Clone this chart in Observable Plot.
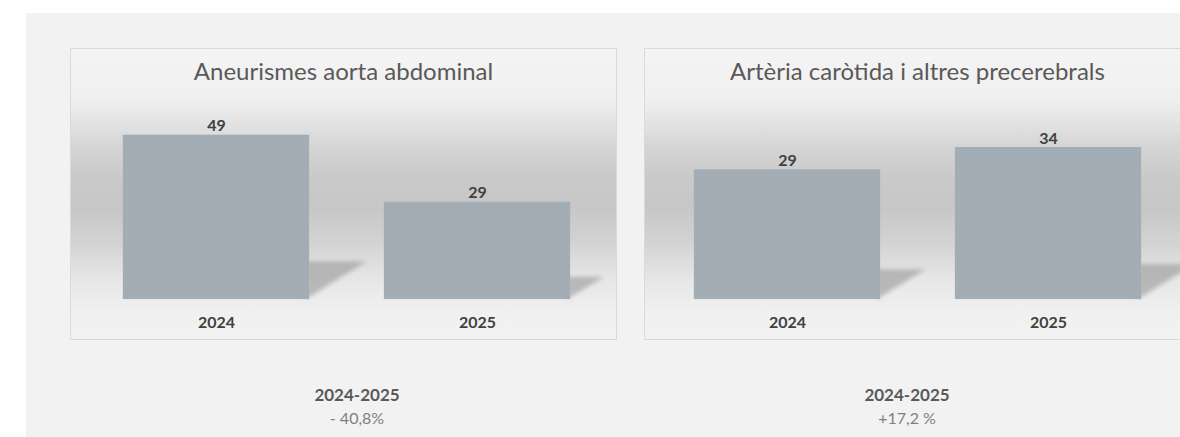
<!DOCTYPE html>
<html><head><meta charset="utf-8">
<script src="https://cdn.jsdelivr.net/npm/d3@7"></script>
<script src="https://cdn.jsdelivr.net/npm/@observablehq/plot@0.6"></script>
<style>
html,body{margin:0;padding:0;background:#fff;}
body{width:1180px;height:437px;overflow:hidden;position:relative;font-family:Lato,"Open Sans",sans-serif;}
#bg{position:absolute;left:26px;top:13px;width:1154px;height:424px;background:#f2f2f2;}
.panel{position:absolute;top:48px;width:547px;height:292px;box-sizing:border-box;border:1px solid #dadada;
  background:linear-gradient(to bottom,#f4f4f4 0%,#f0f0f0 17%,#e2e2e2 26%,#d4d4d4 34%,#c9c9c9 45%,#c7c7c7 55%,#d3d3d3 67%,#e6e6e6 79%,#f0f0f0 90%,#f2f2f2 100%);}
.panel svg{position:absolute;left:-1px;top:-1px;}
.title{position:absolute;left:0;right:0;top:10px;text-align:center;font-size:24px;line-height:24px;color:#595959;white-space:nowrap;}
.cap{position:absolute;width:200px;text-align:center;}
.cap .p{font-size:17px;font-weight:bold;color:#595959;line-height:20px;}
.cap .c{font-size:16px;color:#7f7f7f;line-height:20px;margin-top:3px;}
</style></head>
<body>
<div id="bg"></div>
<div id="root"></div>
<script>
const years = ["2024", "2025"];
const aneurismes = [49, 29];
const carotida = [29, 34];
const titles = ["Aneurismes aorta abdominal", "Artèria caròtida i altres precerebrals"];
const periods = ["2024-2025", "2024-2025"];
const changes = ["- 40,8%", "+17,2 %"];
const yMax = [60, 45];

const panels = [
  {values: aneurismes, ymax: yMax[0], title: titles[0], left: 70, ml: 53, mr: 45, capX: 357, period: periods[0], change: changes[0]},
  {values: carotida, ymax: yMax[1], title: titles[1], left: 644, ml: 50, mr: 48, capX: 907, period: periods[1], change: changes[1]}
];

const PAD = 0.288;

function shadow(data, id, ml, mr, width) {
  return (index, scales) => {
    const sx = scales.x, sy = scales.y;
    let bw = typeof sx.bandwidth === "function" ? sx.bandwidth() : sx.bandwidth;
    if (!(bw > 0)) bw = (width - ml - mr) * (1 - PAD) / (2 - PAD);
    const y0 = sy(0);
    const g = d3.create("svg:g");
    const f = g.append("defs").append("filter").attr("id", id)
      .attr("x", "-20%").attr("y", "-20%").attr("width", "140%").attr("height", "140%");
    f.append("feGaussianBlur").attr("stdDeviation", 2);
    const gg = g.append("g").attr("filter", `url(#${id})`);
    for (const d of data) {
      const xr = sx(d.year) + bw;
      const h = y0 - sy(d.value);
      gg.append("path")
        .attr("d", `M${xr - 3},${y0}L${xr - 3},${y0 - 0.23 * h}L${xr + 0.35 * h},${y0 - 0.23 * h}Z`)
        .attr("fill", "#9a9a9a").attr("fill-opacity", 0.62);
    }
    return g.node();
  };
}

const root = document.getElementById("root");
panels.forEach((p, k) => {
  const data = years.map((year, i) => ({year, value: p.values[i]}));
  const div = document.createElement("div");
  div.className = "panel";
  div.style.left = p.left + "px";
  const W = 547;
  const chart = Plot.plot({
    width: W, height: 292,
    marginTop: 50, marginBottom: 40, marginLeft: p.ml, marginRight: p.mr,
    style: {background: "transparent", overflow: "visible", fontFamily: "Lato, 'Open Sans', sans-serif", fontSize: "16px", fontWeight: "bold", color: "#404040"},
    x: {domain: years, paddingInner: PAD, paddingOuter: 0, label: null, tickSize: 0, tickPadding: 17},
    y: {domain: [0, p.ymax], axis: null},
    marks: [
      shadow(data, "blur" + k, p.ml, p.mr, W),
      Plot.barY(data, {x: "year", y: "value", fill: "#a2adb5"}),
      Plot.text(data, {x: "year", y: "value", text: d => String(d.value), dy: -9, fontSize: 16, fontWeight: "bold", fill: "#404040"})
    ]
  });
  div.appendChild(chart);
  const t = document.createElement("div");
  t.className = "title";
  t.textContent = p.title;
  div.appendChild(t);
  root.appendChild(div);

  const cap = document.createElement("div");
  cap.className = "cap";
  cap.style.left = (p.capX - 100) + "px";
  cap.style.top = "385px";
  cap.innerHTML = `<div class="p"></div><div class="c"></div>`;
  cap.querySelector(".p").textContent = p.period;
  cap.querySelector(".c").textContent = p.change;
  root.appendChild(cap);
});
</script>
</body></html>
